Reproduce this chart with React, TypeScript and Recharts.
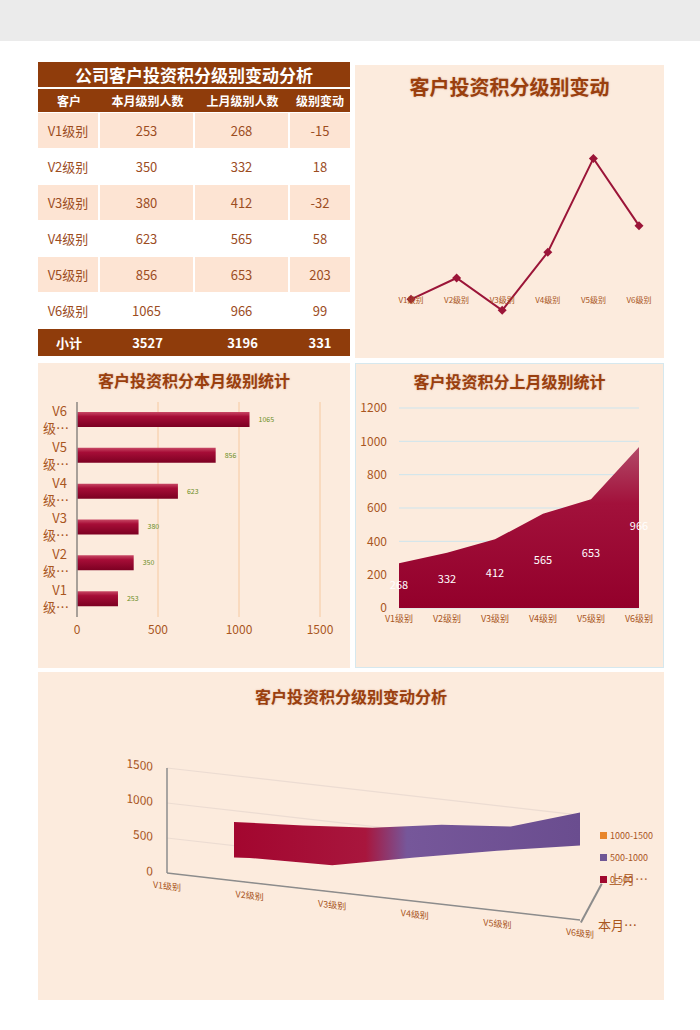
import React from "react"
import {
  LineChart,
  Line,
  BarChart,
  Bar,
  AreaChart,
  Area,
  ComposedChart,
  XAxis,
  YAxis,
  CartesianGrid,
  LabelList,
  ReferenceLine
} from "recharts"

// ---- data ----
const levels = ["V1级别", "V2级别", "V3级别", "V4级别", "V5级别", "V6级别"]
const thisMonth = [253, 350, 380, 623, 856, 1065]
const lastMonth = [268, 332, 412, 565, 653, 966]
const change = [-15, 18, -32, 58, 203, 99]
const tableHeaders = ["客户", "本月级别人数", "上月级别人数", "级别变动"]
const subtotal = ["小计", 3527, 3196, 331]
const barTicks = [0, 500, 1000, 1500]
const areaTicks = [0, 200, 400, 600, 800, 1000, 1200]
const surfaceTicks = [0, 500, 1000, 1500]
const surfaceLegend = ["1000-1500", "500-1000", "0-500"]
const depthLabels = ["上月…", "本月…"]

const rows = levels.map((name, i) => ({
  name,
  cur: thisMonth[i],
  last: lastMonth[i],
  diff: change[i]
}))

const FONT = "'Noto Sans CJK SC', 'Noto Sans', sans-serif"
const PANEL = "#fcebdd"
const BROWN = "#8f3c0b"
const TITLE = "#9a3f0e"
const TICK = "#a9561e"
const CELL_TEXT = "#9c4d1f"
const CRIMSON = "#9b1538"
const legendColors = ["#e8852a", "#6f5796", "#a0082e"]

const titleStyle: React.CSSProperties = {
  position: "absolute",
  left: 0,
  width: "100%",
  textAlign: "center",
  fontWeight: 700,
  color: TITLE,
  textShadow: "0 0 2px rgba(160,70,20,0.35)",
  lineHeight: "24px"
}

// ---- table ----
const colWidths = [60, 93, 93, 60]

function Cell({ w, bg, children, style }: any) {
  return (
    <div
      style={{
        width: w,
        background: bg,
        display: "flex",
        alignItems: "center",
        justifyContent: "center",
        ...style
      }}
    >
      {children}
    </div>
  )
}

function ScoreTable() {
  return (
    <div style={{ position: "absolute", left: 38, top: 62, width: 312 }}>
      <div
        style={{
          height: 25,
          background: BROWN,
          color: "#fff",
          fontWeight: 700,
          fontSize: 17,
          textAlign: "center",
          lineHeight: "25px"
        }}
      >
        公司客户投资积分级别变动分析
      </div>
      <div style={{ display: "flex", marginTop: 2, height: 23, background: BROWN }}>
        {tableHeaders.map((h, i) => (
          <Cell key={h} w={colWidths[i] + (i < 3 ? 2 : 0)} bg={BROWN} style={{ color: "#fff", fontWeight: 700, fontSize: 12 }}>
            {h}
          </Cell>
        ))}
      </div>
      {rows.map((r, ri) => (
        <div key={r.name} style={{ display: "flex", gap: 2, marginTop: 1, height: 35 }}>
          {[r.name, r.cur, r.last, r.diff].map((v, i) => (
            <Cell
              key={i}
              w={colWidths[i]}
              bg={ri % 2 === 0 ? "#fde4d3" : "#ffffff"}
              style={{ color: CELL_TEXT, fontSize: 13 }}
            >
              {v}
            </Cell>
          ))}
        </div>
      ))}
      <div style={{ display: "flex", marginTop: 1, height: 27, background: BROWN }}>
        {subtotal.map((v, i) => (
          <Cell key={i} w={colWidths[i] + (i < 3 ? 2 : 0)} bg={BROWN} style={{ color: "#fff", fontWeight: 700, fontSize: 13 }}>
            {v}
          </Cell>
        ))}
      </div>
    </div>
  )
}

// ---- line chart (级别变动) ----
const lineDomain = [-50, 250]
const lineMargin = { top: 63, right: 25, bottom: 6, left: 56 }
const lineH = 293
const linePlotH = lineH - lineMargin.top - lineMargin.bottom - 30
const zeroShift = (linePlotH * (0 - lineDomain[0])) / (lineDomain[1] - lineDomain[0])

function DiffTick(p: any) {
  return (
    <text x={p.x} y={p.y - zeroShift} dy="0.71em" textAnchor="middle" fontSize={8} fill={TICK} fontFamily={FONT}>
      {p.payload.value}
    </text>
  )
}

function Diamond(p: any) {
  const { cx, cy, index } = p
  const s = 4.5
  return (
    <path
      key={"d" + index}
      d={`M${cx},${cy - s}L${cx + s},${cy}L${cx},${cy + s}L${cx - s},${cy}Z`}
      fill={CRIMSON}
    />
  )
}

function ChangePanel() {
  return (
    <div style={{ position: "absolute", left: 355, top: 65, width: 309, height: lineH, background: PANEL }}>
      <div style={{ ...titleStyle, top: 10, fontSize: 20 }}>客户投资积分级别变动</div>
      <div style={{ position: "absolute", left: 0, top: 0 }}>
        <LineChart width={309} height={lineH} data={rows} margin={lineMargin}>
          <XAxis
            dataKey="name"
            scale="point"
            padding={{ left: 0, right: 0 }}
            axisLine={false}
            tickLine={false}
            height={30}
            interval={0}
            tick={DiffTick}
          />
          <YAxis hide domain={lineDomain} allowDataOverflow />
          <Line
            type="linear"
            dataKey="diff"
            stroke={CRIMSON}
            strokeWidth={2}
            dot={Diamond}
            activeDot={false}
            isAnimationActive={false}
          />
        </LineChart>
      </div>
    </div>
  )
}

// ---- bar chart (本月) ----
function LevelTick(p: any) {
  const name: string = p.payload.value
  return (
    <text x={p.x} y={p.y} textAnchor="end" fontSize={13} fill={TICK} fontFamily={FONT}>
      <tspan x={p.x - 2} y={p.y - 4}>{name.slice(0, 2)}</tspan>
      <tspan x={p.x} y={p.y + 13}>{name.slice(2, 3) + "…"}</tspan>
    </text>
  )
}

function CurrentPanel() {
  return (
    <div style={{ position: "absolute", left: 38, top: 363, width: 312, height: 305, background: PANEL }}>
      <div style={{ ...titleStyle, top: 5, fontSize: 16 }}>客户投资积分本月级别统计</div>
      <div style={{ position: "absolute", left: 0, top: 0 }}>
        <BarChart
          layout="vertical"
          width={312}
          height={305}
          data={rows}
          margin={{ top: 39, right: 30, bottom: 21, left: 0 }}
          barSize={15}
        >
          <defs>
            <linearGradient id="barGrad" x1="0" y1="0" x2="0" y2="1">
              <stop offset="0%" stopColor="#c84865" />
              <stop offset="30%" stopColor="#a60d37" />
              <stop offset="100%" stopColor="#7c0022" />
            </linearGradient>
          </defs>
          <CartesianGrid horizontal={false} stroke="#f6c9a0" />
          <XAxis
            type="number"
            domain={[0, 1500]}
            ticks={barTicks}
            allowDataOverflow
            axisLine={false}
            tickLine={false}
            height={30}
            tick={{ fontSize: 12, fill: TICK, fontFamily: FONT }}
          />
          <YAxis
            type="category"
            dataKey="name"
            reversed
            width={39}
            interval={0}
            axisLine={{ stroke: "#8c8c8c", strokeWidth: 1.5 }}
            tickLine={false}
            tick={LevelTick}
          />
          <Bar dataKey="cur" fill="url(#barGrad)" isAnimationActive={false}>
            <LabelList dataKey="cur" position="right" offset={9} fontSize={7} fill="#6b8e23" />
          </Bar>
        </BarChart>
      </div>
    </div>
  )
}

// ---- area chart (上月) ----
const areaH = 305
const areaMargin = { top: 45, right: 25, bottom: 30, left: 0 }
const areaBase = areaH - areaMargin.bottom - 30

function AreaLabel(p: any) {
  const x = p.x ?? p.viewBox?.x
  const y = p.y ?? p.viewBox?.y
  if (x == null || y == null) return null
  return (
    <text x={x} y={(y + areaBase) / 2} textAnchor="middle" dominantBaseline="middle" fontSize={11} fill="#fff" fontFamily={FONT}>
      {p.value}
    </text>
  )
}

function LastPanel() {
  return (
    <div
      style={{
        position: "absolute",
        left: 355,
        top: 363,
        width: 309,
        height: areaH,
        background: PANEL,
        boxShadow: "inset 0 0 0 1px #d6e8ee"
      }}
    >
      <div style={{ ...titleStyle, top: 6, fontSize: 16 }}>客户投资积分上月级别统计</div>
      <div style={{ position: "absolute", left: 0, top: 0 }}>
        <AreaChart width={309} height={areaH} data={rows} margin={areaMargin}>
          <defs>
            <linearGradient id="areaGrad" x1="0" y1="0" x2="0" y2="1">
              <stop offset="0%" stopColor="#b24a68" />
              <stop offset="35%" stopColor="#a2113b" />
              <stop offset="100%" stopColor="#93002b" />
            </linearGradient>
          </defs>
          <CartesianGrid vertical={false} stroke="#cde5ee" />
          <XAxis
            dataKey="name"
            scale="point"
            padding={{ left: 0, right: 0 }}
            axisLine={false}
            tickLine={false}
            interval={0}
            height={30}
            tick={{ fontSize: 9, fill: TICK, fontFamily: FONT }}
          />
          <YAxis
            domain={[0, 1200]}
            ticks={areaTicks}
            allowDataOverflow
            width={44}
            axisLine={false}
            tickLine={false}
            tickMargin={6}
            tick={{ fontSize: 12, fill: TICK, fontFamily: FONT }}
          />
          <Area
            type="linear"
            dataKey="last"
            fill="url(#areaGrad)"
            fillOpacity={1}
            stroke="none"
            activeDot={false}
            isAnimationActive={false}
          >
            <LabelList dataKey="last" content={AreaLabel} />
          </Area>
        </AreaChart>
      </div>
    </div>
  )
}

// ---- pseudo 3D surface (本月 front row, 上月 back row) ----
function SurfacePanel() {
  return (
    <div style={{ position: "absolute", left: 38, top: 672, width: 626, height: 328, background: PANEL }}>
      <div style={{ ...titleStyle, top: 12, fontSize: 16 }}>客户投资积分级别变动分析</div>
      <div
        style={{
          position: "absolute",
          left: 62,
          top: 28,
          transform: "skewY(6.5deg)",
          transformOrigin: "67px 0px"
        }}
      >
        <ComposedChart width={515} height={208} data={rows} margin={{ top: 33, right: 35, bottom: 5, left: 0 }}>
          <defs>
            <linearGradient id="surfGrad" x1="0" y1="0" x2="1" y2="0">
              <stop offset="0%" stopColor="#a3062f" />
              <stop offset="38%" stopColor="#a8163d" />
              <stop offset="50%" stopColor="#76579a" />
              <stop offset="100%" stopColor="#6a4d8f" />
            </linearGradient>
          </defs>
          <CartesianGrid
            xAxisId="f"
            yAxisId="f"
            vertical={false}
            horizontalValues={surfaceTicks.slice(1)}
            stroke="#ecdcd2"
            strokeWidth={1.2}
          />
          <XAxis
            xAxisId="f"
            dataKey="name"
            scale="point"
            padding={{ left: 0, right: 0 }}
            axisLine={{ stroke: "#8c8c8c", strokeWidth: 1.5 }}
            tickLine={false}
            interval={0}
            height={30}
            tickMargin={4}
            tick={{ fontSize: 9, fill: TICK, fontFamily: FONT }}
          />
          <XAxis
            xAxisId="b"
            dataKey="name"
            scale="point"
            orientation="top"
            padding={{ left: 67, right: 0 }}
            hide
          />
          <YAxis
            yAxisId="f"
            domain={[0, 2000]}
            ticks={surfaceTicks}
            allowDataOverflow
            width={67}
            axisLine={false}
            tickLine={false}
            tickMargin={8}
            tick={{ fontSize: 12, fill: TICK, fontFamily: FONT }}
          />
          <YAxis yAxisId="b" orientation="right" domain={[-570, 1430]} allowDataOverflow hide />
          <Area
            xAxisId="b"
            yAxisId="b"
            type="linear"
            dataKey="last"
            baseValue="dataMin"
            fill="url(#surfGrad)"
            fillOpacity={1}
            stroke="none"
            activeDot={false}
            isAnimationActive={false}
          />
          <Area
            xAxisId="f"
            yAxisId="f"
            type="linear"
            dataKey="cur"
            fill={PANEL}
            fillOpacity={1}
            stroke="none"
            activeDot={false}
            isAnimationActive={false}
          />
          <ReferenceLine
            xAxisId="f"
            yAxisId="f"
            segment={[
              { x: levels[0], y: surfaceTicks[0] },
              { x: levels[0], y: surfaceTicks[3] }
            ]}
            stroke="#8c8c8c"
            strokeWidth={1.5}
          />
        </ComposedChart>
      </div>
      {/* depth axis */}
      <div
        style={{
          position: "absolute",
          left: 542,
          top: 250,
          width: 44,
          height: 1.5,
          background: "#8c8c8c",
          transformOrigin: "0 0",
          transform: "rotate(-61.7deg)"
        }}
      />
      {surfaceLegend.map((t, i) => (
        <div
          key={t}
          style={{
            position: "absolute",
            left: 562,
            top: 157 + i * 22,
            display: "flex",
            alignItems: "center",
            fontSize: 9,
            color: TICK
          }}
        >
          <span style={{ width: 7, height: 7, background: legendColors[i], marginRight: 3 }} />
          {t}
        </div>
      ))}
      <div style={{ position: "absolute", left: 571, top: 197, fontSize: 13, color: TICK, opacity: 0.85 }}>
        {depthLabels[0]}
      </div>
      <div style={{ position: "absolute", left: 560, top: 243, fontSize: 13, color: TICK }}>{depthLabels[1]}</div>
    </div>
  )
}

export default function App() {
  return (
    <div
      style={{
        position: "absolute",
        left: 0,
        top: 0,
        width: 700,
        height: 1030,
        background: "#ffffff",
        fontFamily: FONT,
        overflow: "hidden"
      }}
    >
      <div style={{ position: "absolute", left: 0, top: 0, width: 700, height: 41, background: "#ebebeb" }} />
      <ScoreTable />
      <ChangePanel />
      <CurrentPanel />
      <LastPanel />
      <SurfacePanel />
    </div>
  )
}
